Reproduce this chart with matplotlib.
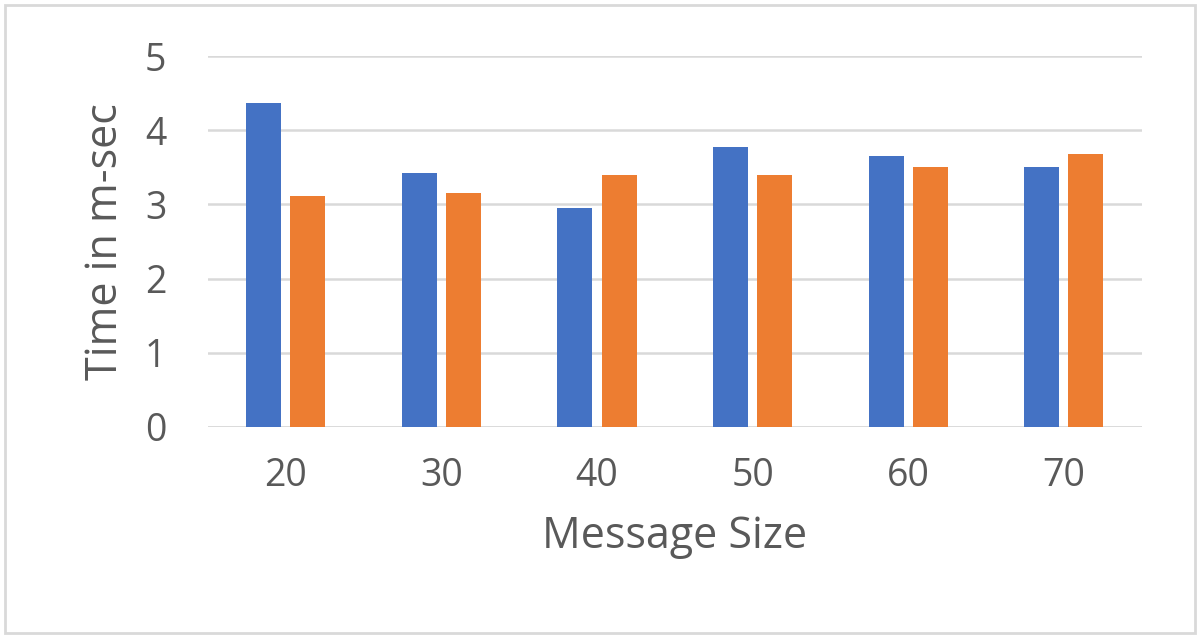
import numpy as np
import matplotlib.pyplot as plt
from matplotlib.patches import Rectangle

plt.rcParams['font.family'] = ['Open Sans', 'DejaVu Sans']

sizes = ['20', '30', '40', '50', '60', '70']
serie_azul = [4.37, 3.42, 2.95, 3.78, 3.65, 3.51]
serie_naranja = [3.12, 3.15, 3.40, 3.40, 3.51, 3.68]

gris = '#595959'
x = np.arange(len(sizes))
ancho = 0.225

fig = plt.figure(figsize=(12, 6.38), dpi=100)
ax = fig.add_axes([0.1733, 0.331, 0.778, 0.581])

ax.bar(x - 0.142, serie_azul, ancho, color='#4472C4', zorder=3)
ax.bar(x + 0.142, serie_naranja, ancho, color='#ED7D31', zorder=3)

ax.set_xlim(-0.5, len(sizes) - 0.5)
ax.set_ylim(0, 5)
ax.set_xticks(x)
ax.set_xticklabels(sizes)
ax.set_yticks(range(0, 6))
ax.yaxis.grid(True, color='#d9d9d9', linewidth=1.8, zorder=0)
for s in ax.spines.values():
    s.set_visible(False)
ax.axhline(0, color='#d9d9d9', linewidth=1.8, zorder=1)
ax.tick_params(axis='both', length=0, labelsize=27, colors=gris)
ax.tick_params(axis='x', pad=22)
ax.tick_params(axis='y', pad=30)

ax.set_xlabel('Message Size', fontsize=31, color=gris, labelpad=14)
ax.set_ylabel('Time in m-sec', fontsize=31, color=gris, labelpad=12)

fig.patches.append(Rectangle((0.004, 0.008), 0.992, 0.984, transform=fig.transFigure,
                             fill=False, edgecolor='#d9d9d9', linewidth=2))

fig.savefig('out.png', dpi=100)
